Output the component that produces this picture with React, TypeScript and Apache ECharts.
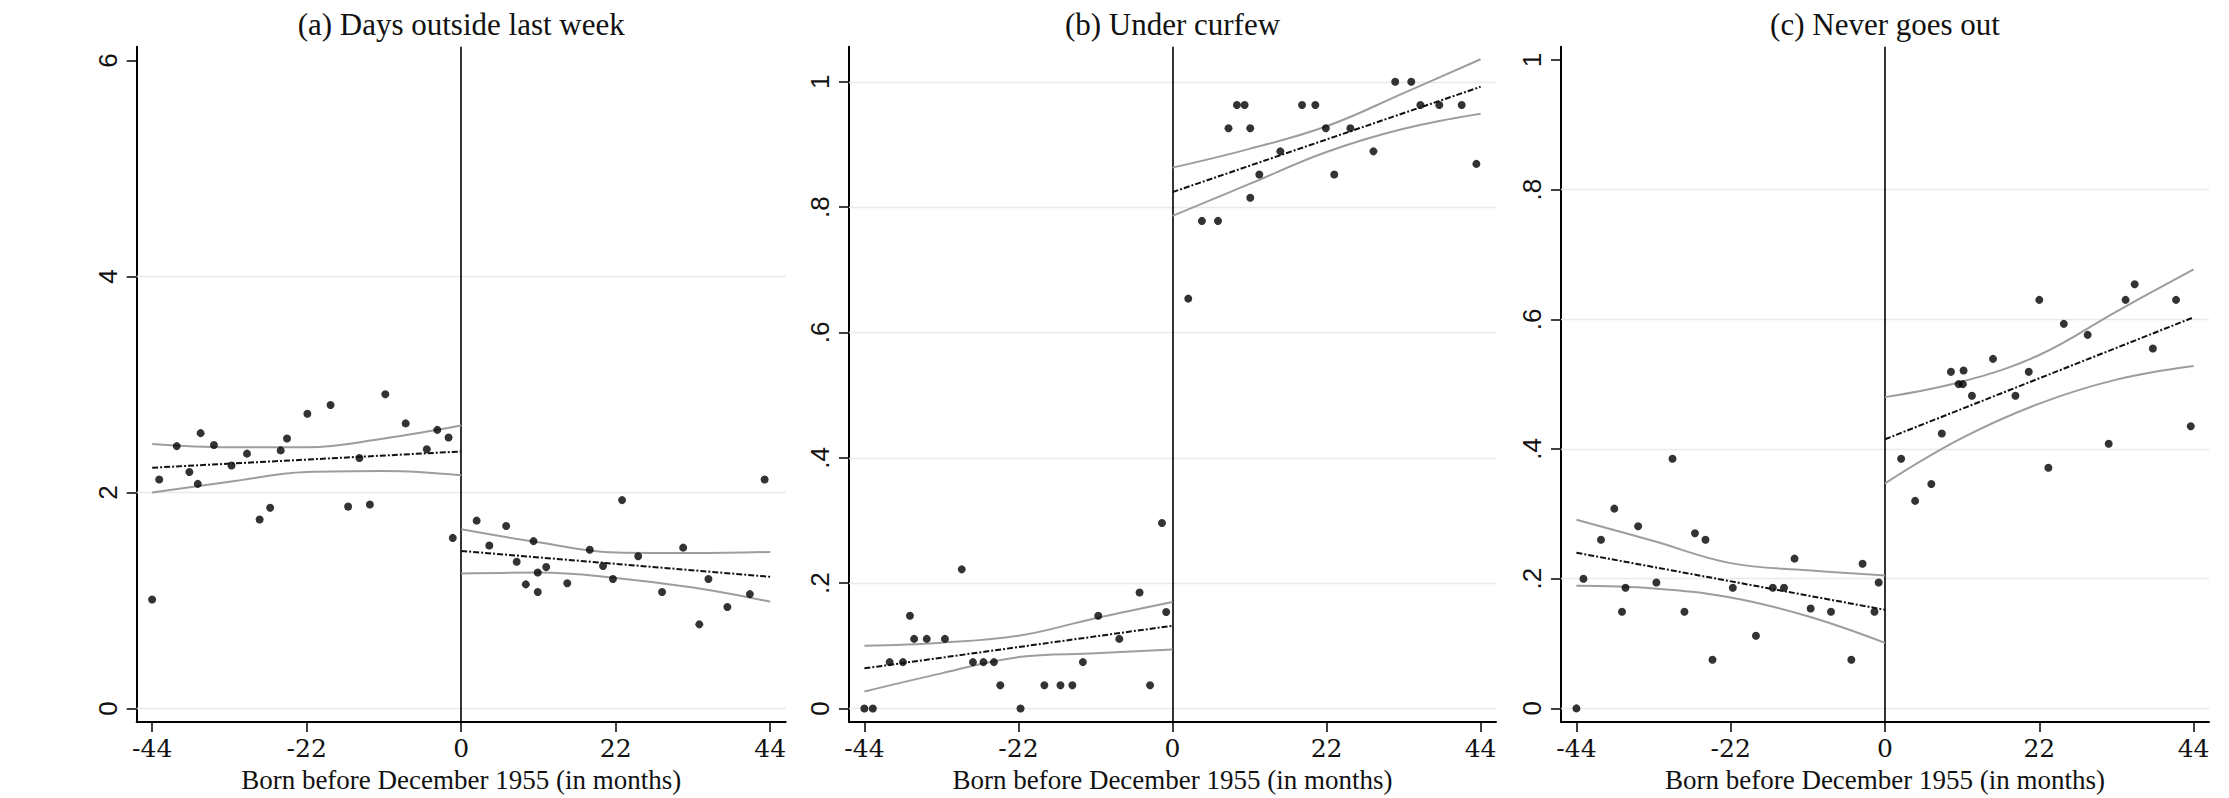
import React, { useEffect, useRef } from 'react';
import * as echarts from 'echarts';

// ---- tick labels / text ----
const monthTicks = [-44, -22, 0, 22, 44];
const daysTicks = [0, 2, 4, 6];
const shareTicks = [0, 0.2, 0.4, 0.6, 0.8, 1];
const daysGridLines = [0, 2, 4];
const curfewGridLines = [0, 0.2, 0.4, 0.6, 0.8, 1];
const neverGridLines = [0, 0.2, 0.4, 0.6, 0.8];
const panelTitles = ['(a) Days outside last week', '(b) Under curfew', '(c) Never goes out'];
const xTitle = 'Born before December 1955 (in months)';

// ---- (a) Days outside last week ----
const daysBefore = [
  [-44, 1.01], [-43, 2.12], [-40.5, 2.43], [-38.7, 2.19], [-37.5, 2.08], [-37.1, 2.55],
  [-35.2, 2.44], [-32.7, 2.25], [-30.5, 2.36], [-28.7, 1.75], [-27.2, 1.86], [-25.7, 2.39],
  [-24.8, 2.5], [-21.9, 2.73], [-18.6, 2.81], [-16.1, 1.87], [-14.5, 2.32], [-13, 1.89],
  [-10.8, 2.91], [-7.9, 2.64], [-4.9, 2.4], [-3.4, 2.58], [-1.8, 2.51], [-1.2, 1.58],
];
const daysAfter = [
  [2.2, 1.74], [4, 1.51], [6.4, 1.69], [7.9, 1.36], [9.2, 1.15], [10.3, 1.55], [10.9, 1.26],
  [10.9, 1.08], [12.1, 1.31], [15.1, 1.16], [18.3, 1.47], [20.2, 1.32], [21.6, 1.2], [22.9, 1.93],
  [25.2, 1.41], [28.6, 1.08], [31.6, 1.49], [33.9, 0.78], [35.2, 1.2], [37.9, 0.94], [41.1, 1.06],
  [43.2, 2.12],
];
const daysFitBefore = [[-44, 2.23], [0, 2.38]];
const daysUpperBefore = [[-44, 2.45], [-33, 2.42], [-22, 2.42], [-11, 2.5], [0, 2.62]];
const daysLowerBefore = [[-44, 2.0], [-33, 2.1], [-22, 2.19], [-11, 2.2], [0, 2.16]];
const daysFitAfter = [[0, 1.46], [44, 1.22]];
const daysUpperAfter = [[0, 1.66], [11, 1.54], [22, 1.445], [33, 1.44], [44, 1.45]];
const daysLowerAfter = [[0, 1.25], [11, 1.26], [22, 1.21], [33, 1.12], [44, 0.99]];

// ---- (b) Under curfew ----
const curfewBefore = [
  [-44, 0], [-42.8, 0], [-40.4, 0.074], [-38.5, 0.074], [-37.5, 0.148], [-36.9, 0.111],
  [-35.1, 0.111], [-32.5, 0.111], [-30.1, 0.222], [-28.5, 0.074], [-27, 0.074], [-25.5, 0.074],
  [-24.6, 0.037], [-21.7, 0], [-18.3, 0.037], [-16, 0.037], [-14.3, 0.037], [-12.8, 0.074],
  [-10.6, 0.148], [-7.6, 0.111], [-4.7, 0.185], [-3.2, 0.037], [-1.5, 0.296], [-0.9, 0.154],
];
const curfewAfter = [
  [2.25, 0.654], [4.2, 0.778], [6.5, 0.778], [8, 0.926], [9.2, 0.963], [10.3, 0.963],
  [11.1, 0.926], [11.1, 0.815], [12.4, 0.852], [15.4, 0.889], [18.5, 0.963], [20.4, 0.963],
  [21.9, 0.926], [23.1, 0.852], [25.4, 0.926], [28.7, 0.889], [31.8, 1.0], [34.1, 1.0],
  [35.4, 0.963], [38.1, 0.963], [41.3, 0.963], [43.4, 0.869],
];
const curfewFitBefore = [[-44, 0.064], [0, 0.132]];
const curfewUpperBefore = [[-44, 0.1], [-33, 0.105], [-22, 0.116], [-11, 0.144], [0, 0.17]];
const curfewLowerBefore = [[-44, 0.027], [-33, 0.056], [-22, 0.082], [-11, 0.088], [0, 0.094]];
const curfewFitAfter = [[0, 0.824], [44, 0.992]];
const curfewUpperAfter = [[0, 0.863], [11, 0.893], [22, 0.929], [33, 0.982], [44, 1.036]];
const curfewLowerAfter = [[0, 0.786], [11, 0.837], [22, 0.888], [33, 0.925], [44, 0.949]];

// ---- (c) Never goes out ----
const neverBefore = [
  [-44, 0], [-43, 0.2], [-40.5, 0.26], [-38.6, 0.308], [-37.5, 0.149], [-37, 0.186],
  [-35.2, 0.281], [-32.6, 0.194], [-30.3, 0.385], [-28.6, 0.149], [-27.1, 0.27], [-25.6, 0.26],
  [-24.6, 0.075], [-21.7, 0.186], [-18.4, 0.112], [-16, 0.186], [-14.4, 0.186], [-12.9, 0.231],
  [-10.6, 0.154], [-7.7, 0.149], [-4.8, 0.075], [-3.2, 0.223], [-1.5, 0.149], [-0.9, 0.194],
];
const neverAfter = [
  [2.3, 0.385], [4.3, 0.32], [6.6, 0.346], [8.1, 0.424], [9.4, 0.519], [10.5, 0.5], [11.1, 0.5],
  [11.2, 0.521], [12.4, 0.482], [15.4, 0.539], [18.6, 0.482], [20.5, 0.519], [22, 0.63],
  [23.3, 0.371], [25.5, 0.593], [28.9, 0.576], [31.9, 0.408], [34.3, 0.63], [35.6, 0.654],
  [38.2, 0.555], [41.5, 0.63], [43.6, 0.435],
];
const neverFitBefore = [[-44, 0.24], [0, 0.152]];
const neverUpperBefore = [[-44, 0.291], [-33, 0.258], [-22, 0.224], [-11, 0.213], [0, 0.205]];
const neverLowerBefore = [[-44, 0.189], [-33, 0.185], [-22, 0.171], [-11, 0.142], [0, 0.101]];
const neverFitAfter = [[0, 0.415], [44, 0.603]];
const neverUpperAfter = [[0, 0.48], [11, 0.504], [22, 0.545], [33, 0.612], [44, 0.677]];
const neverLowerAfter = [[0, 0.347], [11, 0.417], [22, 0.47], [33, 0.507], [44, 0.528]];

const panels = [
  {
    before: daysBefore, after: daysAfter,
    fit: [daysFitBefore, daysFitAfter],
    ci: [daysUpperBefore, daysLowerBefore, daysUpperAfter, daysLowerAfter],
    ticks: daysTicks, gridLines: daysGridLines, yMin: -0.124, yMax: 6.127,
  },
  {
    before: curfewBefore, after: curfewAfter,
    fit: [curfewFitBefore, curfewFitAfter],
    ci: [curfewUpperBefore, curfewLowerBefore, curfewUpperAfter, curfewLowerAfter],
    ticks: shareTicks, gridLines: curfewGridLines, yMin: -0.0216, yMax: 1.056,
  },
  {
    before: neverBefore, after: neverAfter,
    fit: [neverFitBefore, neverFitAfter],
    ci: [neverUpperBefore, neverLowerBefore, neverUpperAfter, neverLowerAfter],
    ticks: shareTicks, gridLines: neverGridLines, yMin: -0.021, yMax: 1.0204,
  },
];

const gridBoxes = [
  { left: 136.7, top: 46.7, width: 649, height: 679.3 },
  { left: 849, top: 46.7, width: 647, height: 679.3 },
  { left: 1561, top: 46.7, width: 648, height: 679.3 },
];

const fmtShare = (v: number) => {
  if (Math.abs(v) < 1e-9) return '0';
  if (Math.abs(v - 1) < 1e-9) return '1';
  return String(Number(v.toFixed(1))).replace(/^0/, '');
};

export default function App() {
  const ref = useRef<HTMLDivElement>(null);
  useEffect(() => {
    if (!ref.current) return;
    const chart = echarts.init(ref.current, undefined, { renderer: 'svg' });
    const grid: any[] = [];
    const xAxis: any[] = [];
    const yAxis: any[] = [];
    const series: any[] = [];
    const graphic: any[] = [];

    panels.forEach((p, i) => {
      const g = gridBoxes[i];
      grid.push({ ...g, containLabel: false });
      xAxis.push({
        type: 'value', gridIndex: i, min: -46.2, max: 46.2,
        name: xTitle, nameLocation: 'middle', nameGap: 44,
        nameTextStyle: { fontFamily: 'Liberation Serif', fontSize: 27, color: '#111' },
        axisLine: { show: true, onZero: false, lineStyle: { color: '#000', width: 2 } },
        axisTick: { show: true, customValues: monthTicks, length: 10, lineStyle: { color: '#000', width: 1.5 } },
        axisLabel: {
          show: true, customValues: monthTicks, margin: 14,
          fontFamily: 'DejaVu Serif', fontSize: 25, color: '#111',
        },
        splitLine: { show: false },
      });
      yAxis.push({
        type: 'value', gridIndex: i, min: p.yMin, max: p.yMax,
        axisLine: { show: true, onZero: false, lineStyle: { color: '#000', width: 2 } },
        axisTick: { show: true, customValues: p.ticks, length: 10, lineStyle: { color: '#000', width: 1.5 } },
        axisLabel: {
          show: true, customValues: p.ticks, rotate: 90, margin: 16,
          fontFamily: 'Liberation Sans', fontSize: 26, color: '#111',
          formatter: i === 0 ? (v: number) => String(v) : fmtShare,
        },
        splitLine: { show: false },
      });
      series.push({
        type: 'scatter', xAxisIndex: i, yAxisIndex: i, data: [], symbolSize: 0, z: 1, silent: true,
        markLine: {
          z: 1, silent: true, symbol: ['none', 'none'], label: { show: false }, animation: false,
          data: [
            ...p.gridLines.map((v) => ({ yAxis: v, lineStyle: { color: '#e2ecef', width: 1.3, type: 'solid' } })),
            { xAxis: 0, lineStyle: { color: '#000', width: 1.6, type: 'solid' } },
          ],
        },
      });
      p.ci.forEach((d) => {
        series.push({
          type: 'line', xAxisIndex: i, yAxisIndex: i, data: d, smooth: 0.4, showSymbol: false,
          symbol: 'none', z: 2, lineStyle: { color: '#9d9d9d', width: 2 },
        });
      });
      [p.before, p.after].forEach((d) => {
        series.push({
          type: 'scatter', xAxisIndex: i, yAxisIndex: i, data: d, symbol: 'circle', symbolSize: 8,
          z: 3, itemStyle: { color: '#000' },
        });
      });
      p.fit.forEach((d) => {
        series.push({
          type: 'line', xAxisIndex: i, yAxisIndex: i, data: d, showSymbol: false, symbol: 'none',
          z: 4, lineStyle: { color: '#111', width: 2, type: [6, 2, 2, 2] },
        });
      });
      graphic.push({
        type: 'text', x: g.left + g.width / 2, y: 24,
        style: {
          text: panelTitles[i], fontFamily: 'Liberation Serif', fontSize: 31, fill: '#111',
          align: 'center', verticalAlign: 'middle', textAlign: 'center', textVerticalAlign: 'middle',
        },
      });
    });

    chart.setOption({
      animation: false,
      backgroundColor: '#fff',
      grid, xAxis, yAxis, series, graphic,
    });
    return () => chart.dispose();
  }, []);
  return (
    <div
      ref={ref}
      style={{ position: 'absolute', left: 0, top: 0, width: 2229, height: 798, background: '#fff' }}
    />
  );
}
